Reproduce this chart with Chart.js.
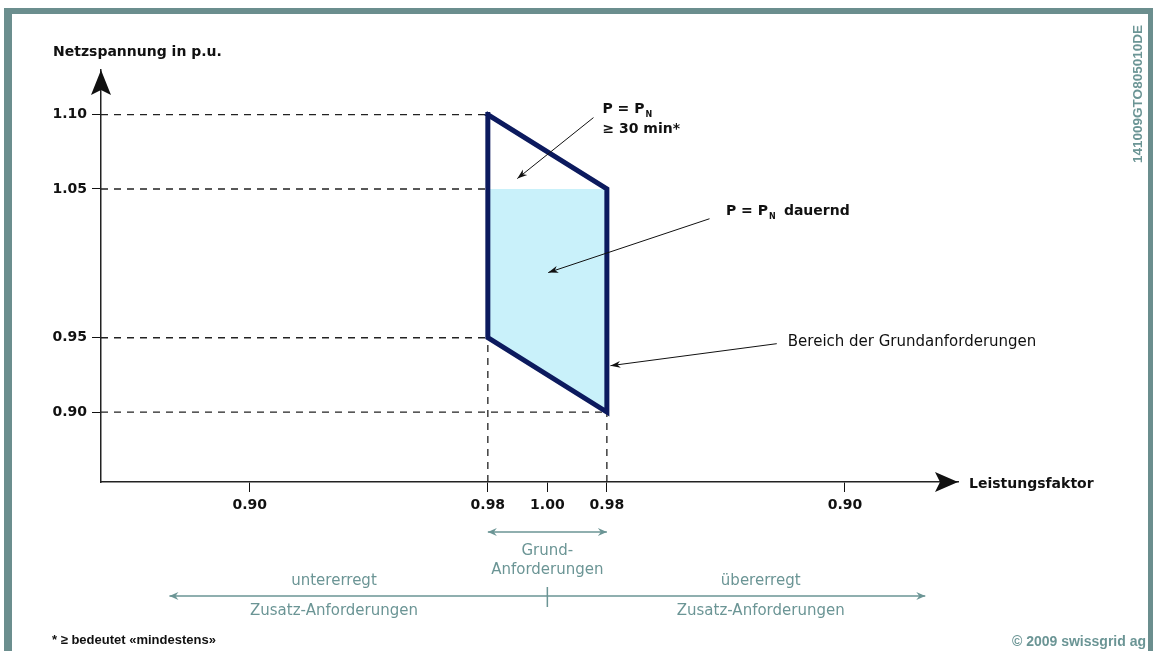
<!DOCTYPE html>
<html>
<head>
<meta charset="utf-8">
<script src="https://cdn.jsdelivr.net/npm/chart.js@4.4.1/dist/chart.umd.min.js"></script>
<style>
  html, body { margin: 0; padding: 0; background: #fff; }
  #wrap { width: 1153px; height: 651px; }
</style>
</head>
<body>
<div id="wrap"><canvas id="chart" width="1153" height="651"></canvas></div>
<script>
// x: distance from cos phi = 1.00 (negative = untererregt, positive = übererregt)
const xTicks = [-0.10, -0.02, 0, 0.02, 0.10];
const xTickLabels = ["0.90", "0.98", "1.00", "0.98", "0.90"];
const yTicks = [0.90, 0.95, 1.05, 1.10];
const yTickLabels = ["0.90", "0.95", "1.05", "1.10"];

// Bereich der Grundanforderungen (outline)
const areaX = [-0.02, 0.02, 0.02, -0.02, -0.02];
const areaY = [1.10, 1.05, 0.90, 0.95, 1.10];
// P = PN dauernd (filled part)
const permX = [-0.02, 0.02, 0.02, -0.02];
const permY = [1.05, 1.05, 0.90, 0.95];

// dashed guides: each y tick runs from the axis to the area
const guideEndX = [0.02, -0.02, -0.02, -0.02];
// vertical guides below the area
const dropX = [-0.02, 0.02];
const dropTopY = [0.95, 0.90];

const xMin = -0.15, xMax = 0.138;
const yMin = 0.853, yMax = 1.13;

const ink = "#111";
const navy = "#0c1a5e";
const teal = "#6b9595";
const frame = "#6b8e8e";
const bold14 = "bold 14px 'DejaVu Sans'";

const pts = (xs, ys) => xs.map((x, i) => ({ x, y: ys[i] }));

const guideSets = yTicks.map((v, i) => ({
  data: [{ x: xMin, y: v }, { x: guideEndX[i], y: v }]
})).concat(dropX.map((v, i) => ({
  data: [{ x: v, y: yMin }, { x: v, y: dropTopY[i] }]
}))).map(d => ({
  ...d,
  showLine: true,
  borderColor: "#222",
  borderWidth: 1.3,
  borderDash: [7, 6],
  pointRadius: 0,
  order: 1
}));

function arrowHead(ctx, x, y, ang, len, half, notch) {
  ctx.save();
  ctx.translate(x, y);
  ctx.rotate(ang);
  ctx.beginPath();
  ctx.moveTo(0, 0);
  ctx.lineTo(-len, -half);
  ctx.lineTo(-len + notch, 0);
  ctx.lineTo(-len, half);
  ctx.closePath();
  ctx.fill();
  ctx.restore();
}

function arrow(ctx, x1, y1, x2, y2, len, half, notch) {
  ctx.beginPath();
  ctx.moveTo(x1, y1);
  ctx.lineTo(x2, y2);
  ctx.stroke();
  arrowHead(ctx, x2, y2, Math.atan2(y2 - y1, x2 - x1), len, half, notch);
}

function label(ctx, str, x, y, font, color, align) {
  ctx.font = font;
  ctx.fillStyle = color;
  ctx.textAlign = align || "left";
  ctx.textBaseline = "middle";
  ctx.fillText(str, x, y);
}

// "P = P" with a subscript N, returns end x
function pn(ctx, x, y) {
  label(ctx, "P = P", x, y, bold14, ink);
  ctx.font = bold14;
  const w = ctx.measureText("P = P").width;
  label(ctx, "N", x + w + 1, y + 5, "bold 8px 'DejaVu Sans'", ink);
  return x + w + 8;
}

const overlay = {
  id: "overlay",
  afterDraw(chart) {
    const { ctx, scales: { x, y }, chartArea: a } = chart;
    ctx.save();

    // axis arrow heads
    ctx.fillStyle = ink;
    arrowHead(ctx, a.left, a.top, -Math.PI / 2, 25, 10, 5);
    arrowHead(ctx, a.right, a.bottom, 0, 23, 10, 5);

    label(ctx, "Netzspannung in p.u.", 53, 52, bold14, ink);
    label(ctx, "Leistungsfaktor", a.right + 11, a.bottom + 2, bold14, ink);

    // annotations
    ctx.strokeStyle = ink;
    ctx.fillStyle = ink;
    ctx.lineWidth = 1;
    arrow(ctx, x.getPixelForValue(0.0155), y.getPixelForValue(1.098),
      x.getPixelForValue(-0.0101), y.getPixelForValue(1.057), 10, 3.5, 3);
    arrow(ctx, x.getPixelForValue(0.0545), y.getPixelForValue(1.030),
      x.getPixelForValue(0.0003), y.getPixelForValue(0.9938), 10, 3.5, 3);
    arrow(ctx, x.getPixelForValue(0.0771), y.getPixelForValue(0.946),
      x.getPixelForValue(0.0212), y.getPixelForValue(0.9312), 10, 3.5, 3);

    const t1x = x.getPixelForValue(0.0185), t1y = y.getPixelForValue(1.1034);
    pn(ctx, t1x, t1y);
    label(ctx, "≥ 30 min*", t1x, t1y + 20, bold14, ink);

    const t2 = pn(ctx, x.getPixelForValue(0.06), y.getPixelForValue(1.0348));
    label(ctx, "dauernd", t2 + 8, y.getPixelForValue(1.0348), bold14, ink);

    label(ctx, "Bereich der Grundanforderungen", x.getPixelForValue(0.0808),
      y.getPixelForValue(0.9473), "15px 'DejaVu Sans'", ink);

    // teal ranges below the axis
    ctx.strokeStyle = teal;
    ctx.fillStyle = teal;
    ctx.lineWidth = 1.5;
    const gL = x.getPixelForValue(-0.02), gR = x.getPixelForValue(0.02);
    const c = x.getPixelForValue(0);
    ctx.beginPath();
    ctx.moveTo(gL, 532);
    ctx.lineTo(gR, 532);
    ctx.stroke();
    arrowHead(ctx, gL, 532, Math.PI, 9, 4, 3);
    arrowHead(ctx, gR, 532, 0, 9, 4, 3);
    label(ctx, "Grund-", c, 551, "15px 'DejaVu Sans'", teal, "center");
    label(ctx, "Anforderungen", c, 570, "15px 'DejaVu Sans'", teal, "center");

    const bL = x.getPixelForValue(-0.127), bR = x.getPixelForValue(0.127);
    ctx.beginPath();
    ctx.moveTo(bL, 596);
    ctx.lineTo(bR, 596);
    ctx.moveTo(c, 587);
    ctx.lineTo(c, 607);
    ctx.stroke();
    arrowHead(ctx, bL, 596, Math.PI, 9, 4, 3);
    arrowHead(ctx, bR, 596, 0, 9, 4, 3);
    const uL = x.getPixelForValue(-0.0717), uR = x.getPixelForValue(0.0717);
    label(ctx, "untererregt", uL, 581, "15px 'DejaVu Sans'", teal, "center");
    label(ctx, "Zusatz-Anforderungen", uL, 611, "15px 'DejaVu Sans'", teal, "center");
    label(ctx, "übererregt", uR, 581, "15px 'DejaVu Sans'", teal, "center");
    label(ctx, "Zusatz-Anforderungen", uR, 611, "15px 'DejaVu Sans'", teal, "center");

    label(ctx, "* ≥ bedeutet «mindestens»", 52, 640, "bold 13px 'Liberation Sans'", ink);
    label(ctx, "© 2009 swissgrid ag", 1146, 642, "bold 14px 'Liberation Sans'", teal, "right");

    ctx.save();
    ctx.translate(1138, 94);
    ctx.rotate(-Math.PI / 2);
    label(ctx, "141009GTO805010DE", 0, 0, "bold 13.5px 'Liberation Sans'", teal, "center");
    ctx.restore();

    // frame
    ctx.fillStyle = frame;
    ctx.fillRect(4, 8, 1149, 6);
    ctx.fillRect(4, 8, 8, 643);
    ctx.fillRect(1148, 8, 5, 643);

    ctx.restore();
  }
};

new Chart(document.getElementById("chart"), {
  type: "scatter",
  data: {
    datasets: [
      {
        data: pts(areaX, areaY),
        showLine: true,
        borderColor: navy,
        borderWidth: 5,
        borderJoinStyle: "miter",
        borderCapStyle: "square",
        pointRadius: 0,
        order: 0
      },
      ...guideSets,
      {
        data: pts(permX, permY),
        showLine: true,
        fill: "shape",
        backgroundColor: "#c9f1fa",
        borderWidth: 0,
        borderColor: "rgba(0,0,0,0)",
        pointRadius: 0,
        order: 2
      }
    ]
  },
  options: {
    responsive: false,
    animation: false,
    events: [],
    layout: { padding: { left: 0, right: 195, top: 70, bottom: 129 } },
    plugins: { legend: { display: false }, tooltip: { enabled: false } },
    scales: {
      x: {
        type: "linear",
        min: xMin,
        max: xMax,
        afterBuildTicks: s => { s.ticks = xTicks.map(v => ({ value: v })); },
        afterFit: s => { s.height = 40; },
        ticks: {
          callback: (v, i) => xTickLabels[i],
          font: { family: "DejaVu Sans", size: 14, weight: "bold" },
          color: ink,
          padding: 5,
          maxRotation: 0,
          autoSkip: false
        },
        grid: { drawOnChartArea: false, drawTicks: true, tickLength: 10, color: ink, lineWidth: 1 },
        border: { color: "#222", width: 1.5 }
      },
      y: {
        type: "linear",
        min: yMin,
        max: yMax,
        afterBuildTicks: s => { s.ticks = yTicks.map(v => ({ value: v })); },
        afterFit: s => { s.width = 101; },
        ticks: {
          callback: (v, i) => yTickLabels[i],
          font: { family: "DejaVu Sans", size: 14, weight: "bold" },
          color: ink,
          padding: 5,
          autoSkip: false
        },
        grid: { drawOnChartArea: false, drawTicks: true, tickLength: 9, color: ink, lineWidth: 1 },
        border: { color: "#222", width: 1.5 }
      }
    }
  },
  plugins: [overlay]
});
</script>
</body>
</html>
